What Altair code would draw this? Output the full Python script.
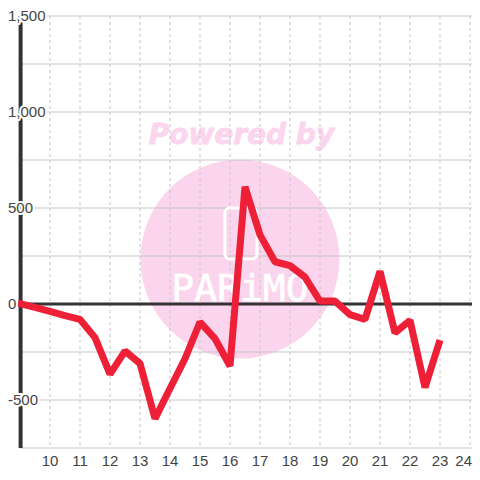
import altair as alt
import pandas as pd

xs = [8.93, 9.5, 10, 10.5, 11, 11.5, 12, 12.5, 13, 13.5, 14, 14.5, 15, 15.5, 16, 16.5, 17, 17.5, 18, 18.5, 19, 19.5, 20, 20.5, 21, 21.5, 22, 22.5, 23]
ys = [5, -18, -39, -60, -80, -175, -365, -245, -310, -597, -440, -285, -94, -180, -323, 610, 360, 220, 200, 140, 15, 15, -55, -80, 170, -150, -85, -435, -188]
x_ticks = list(range(10, 24))
last_tick = [24]
y_ticks = [-750, -500, -250, 0, 250, 500, 750, 1000, 1250, 1500]
y_labels = [(-500, "-500"), (0, "0"), (500, "500"), (1000, "1,000"), (1500, "1,500")]
GRID = "#c6c6c6"
INK = "#333333"
TXT = "#444444"
PINK = "#fbd5ee"
RED = "#ee2038"

xs_scale = alt.Scale(domain=[9, 24.067], nice=False, zero=False)
ys_scale = alt.Scale(domain=[-750, 1500], nice=False, zero=False)
X = lambda f="x": alt.X(f + ":Q", scale=xs_scale, axis=None)
Y = lambda f="y": alt.Y(f + ":Q", scale=ys_scale, axis=None)

df = pd.DataFrame({"x": xs, "y": ys})
hgrid = alt.Chart(pd.DataFrame({"y": y_ticks})).mark_rule(color=GRID, strokeWidth=1).encode(y=Y())
vgrid = alt.Chart(pd.DataFrame({"x": x_ticks + last_tick})).mark_rule(color=GRID, strokeWidth=1, strokeDash=[3, 3]).encode(x=X())
circle = alt.Chart(pd.DataFrame({"x": [16.33], "y": [234]})).mark_circle(size=39600, color=PINK, opacity=1).encode(x=X(), y=Y())
powered = alt.Chart(pd.DataFrame({"x": [16.38], "y": [877], "t": ["Powered by"]})).mark_text(
    font="DejaVu Sans", fontSize=28, fontWeight="bold", fontStyle="italic", color=PINK, align="center", baseline="middle", stroke=PINK, strokeWidth=0.8
).encode(x=X(), y=Y(), text="t:N")
logo_box = alt.Chart(pd.DataFrame({"x": [15.83], "x2": [16.9], "y": [500], "y2": [235]})).mark_rect(
    fill=None, stroke="white", strokeWidth=3, cornerRadius=5, opacity=1
).encode(x=alt.X("x:Q", scale=xs_scale, axis=None), x2="x2:Q", y=alt.Y("y:Q", scale=ys_scale, axis=None), y2="y2:Q")
logo_text = alt.Chart(pd.DataFrame({"x": [16.33], "y": [75], "t": ["PARiMO"]})).mark_text(
    font="DejaVu Sans Mono", fontSize=38, color="white", align="center", baseline="middle", stroke="white", strokeWidth=0.6
).encode(x=X(), y=Y(), text="t:N")
zero = alt.Chart(pd.DataFrame({"y": [0]})).mark_rule(color=INK, strokeWidth=3).encode(y=Y())
left = alt.Chart(pd.DataFrame({"x": [9.02]})).mark_rule(color=INK, strokeWidth=4).encode(x=X())
line = alt.Chart(df).mark_line(color=RED, strokeWidth=7, strokeJoin="bevel", strokeCap="butt", clip=False).encode(x=X(), y=Y(), order=alt.Order("x:Q"))
ylab_df = pd.DataFrame({"x": [9] * len(y_labels), "y": [v for v, _ in y_labels], "t": [t for _, t in y_labels]})
ylab = alt.Chart(ylab_df).mark_text(
    font="Liberation Sans", fontSize=15, color=TXT, align="left", baseline="middle", dx=-12, stroke="white", strokeWidth=4
).encode(x=X(), y=Y(), text="t:N")
ylab2 = alt.Chart(ylab_df).mark_text(
    font="Liberation Sans", fontSize=15, color=TXT, align="left", baseline="middle", dx=-12
).encode(x=X(), y=Y(), text="t:N")
xlab = alt.Chart(pd.DataFrame({"x": x_ticks, "y": [-750] * len(x_ticks), "t": [str(v) for v in x_ticks]})).mark_text(
    font="Liberation Sans", fontSize=15, color=TXT, align="center", baseline="middle", dy=13
).encode(x=X(), y=Y(), text="t:N")
xlab_last = alt.Chart(pd.DataFrame({"x": last_tick, "y": [-750], "t": [str(v) for v in last_tick]})).mark_text(
    font="Liberation Sans", fontSize=15, color=TXT, align="right", baseline="middle", dy=13, dx=2
).encode(x=X(), y=Y(), text="t:N")

chart = alt.layer(circle, powered, hgrid, vgrid, logo_box, logo_text, zero, left, line, ylab, ylab2, xlab, xlab_last).properties(
    width=452, height=432, padding={"left": 12, "top": 8, "right": 0, "bottom": 24},
    autosize=alt.AutoSizeParams(type="none"), background="white"
).configure_view(stroke=None)
chart.save("out.html", embed_options={"renderer": "svg", "actions": False})
